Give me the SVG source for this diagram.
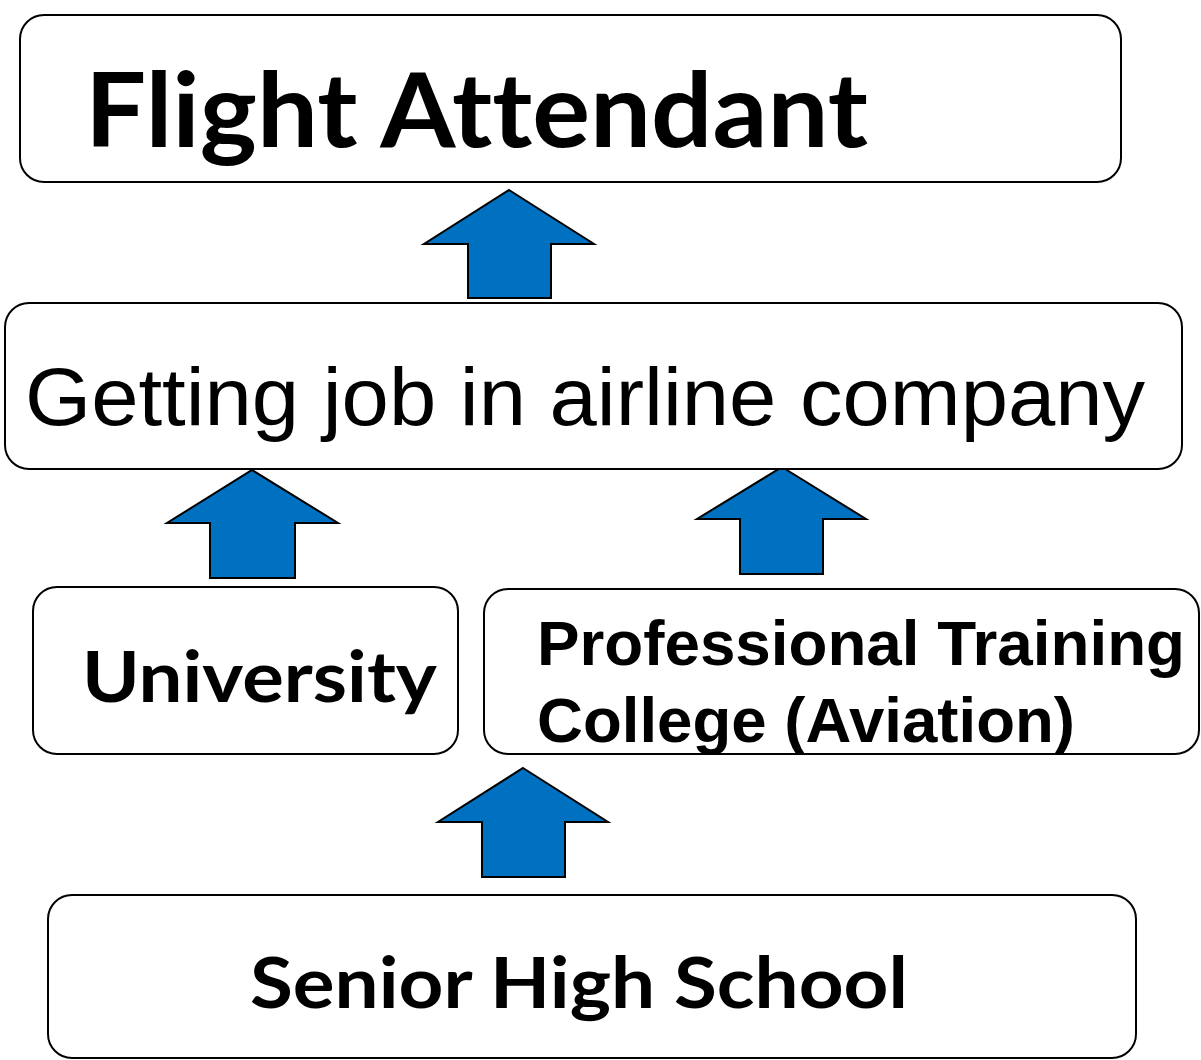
<svg xmlns="http://www.w3.org/2000/svg" width="1201" height="1060" viewBox="0 0 1201 1060">
<style>
.box{fill:#fff;stroke:#000;stroke-width:2}
.arr{fill:#0070C0;stroke:#000;stroke-width:2;stroke-linejoin:miter}
.cal{font-family:Lato,"Open Sans","Liberation Sans",sans-serif;font-weight:bold;fill:#000;font-variant-ligatures:none}
.ari{font-family:"Liberation Sans",Arial,sans-serif;fill:#000}
</style>
<rect width="1201" height="1060" fill="#fff"/>
<g id="connectors">
<polygon class="arr" points="509,190 594,244 551,244 551,298 468,298 468,244 424,244"/>
<polygon class="arr" points="252,470 338,523 295,523 295,578 210,578 210,523 167,523"/>
<polygon class="arr" points="782,467 866,519 823,519 823,574 740,574 740,519 697,519"/>
<polygon class="arr" points="523,768 608,822 565,822 565,877 482,877 482,822 438,822"/>
</g>
<g id="flight-attendant">
<rect class="box" x="20" y="15" width="1101" height="167" rx="24"/>
<text class="cal" x="85" y="147" font-size="104" textLength="783" lengthAdjust="spacingAndGlyphs">Flight Attendant</text>
</g>
<g id="getting-job">
<rect class="box" x="5" y="303" width="1177" height="166" rx="24"/>
<text class="ari" x="25" y="425" font-size="82" textLength="1120" lengthAdjust="spacingAndGlyphs">Getting job in airline company</text>
</g>
<g id="university">
<rect class="box" x="33" y="587" width="425" height="167" rx="24"/>
<text class="cal" x="82" y="702" font-size="70" textLength="355" lengthAdjust="spacingAndGlyphs">University</text>
</g>
<g id="professional-training">
<rect class="box" x="484" y="589" width="715" height="165" rx="24"/>
<text class="ari" font-weight="bold" x="537" y="665" font-size="63" textLength="648" lengthAdjust="spacingAndGlyphs">Professional Training</text>
<text class="ari" font-weight="bold" x="537" y="742" font-size="63" textLength="538" lengthAdjust="spacingAndGlyphs">College (Aviation)</text>
</g>
<g id="senior-high-school">
<rect class="box" x="48" y="895" width="1088" height="163" rx="24"/>
<text class="cal" x="250" y="1008" font-size="71" textLength="658" lengthAdjust="spacingAndGlyphs">Senior High School</text>
</g>
</svg>
